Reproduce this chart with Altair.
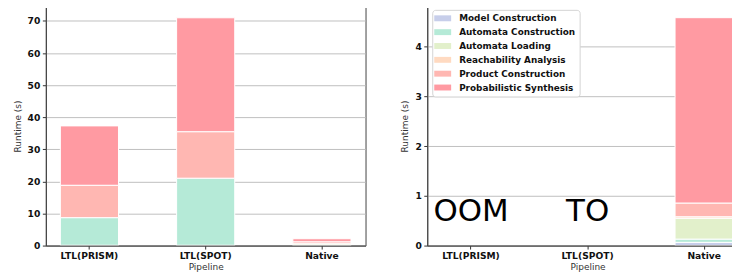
import altair as alt
import pandas as pd

pipelines = ["LTL(PRISM)", "LTL(SPOT)", "Native"]
phases = ["Model Construction", "Automata Construction", "Automata Loading",
          "Reachability Analysis", "Product Construction", "Probabilistic Synthesis"]
colors = ["#C7CEEA", "#B5EAD7", "#E2F0CB", "#FFDAC1", "#FFB7B2", "#FF9AA2"]

# Left panel runtimes (s), one list per phase, ordered like `pipelines`
left_model = [0.1, 0.1, 0.04]
left_automata_construction = [8.6, 20.9, 0.06]
left_automata_loading = [0.0, 0.0, 0.45]
left_reachability = [0.0, 0.0, 0.03]
left_product = [10.1, 14.5, 0.6]
left_synthesis = [18.5, 35.5, 0.95]

# Right panel runtimes (s): only Native finished
right_model = [0.0, 0.0, 0.065]
right_automata_construction = [0.0, 0.0, 0.065]
right_automata_loading = [0.0, 0.0, 0.42]
right_reachability = [0.0, 0.0, 0.03]
right_product = [0.0, 0.0, 0.276]
right_synthesis = [0.0, 0.0, 3.73]

# Annotations on right panel
note_pipelines = ["LTL(PRISM)", "LTL(SPOT)"]
note_labels = ["OOM", "TO"]
note_y = [0.5, 0.5]

left_y_ticks = [0, 10, 20, 30, 40, 50, 60, 70]
right_y_ticks = [0, 1, 2, 3, 4]


def build(series):
    rows = []
    for k, (phase, vals) in enumerate(zip(phases, series)):
        for p, v in zip(pipelines, vals):
            if v > 0:
                rows.append({"pipeline": p, "phase": phase, "order": k, "runtime": v})
    return pd.DataFrame(rows)


df_left = build([left_model, left_automata_construction, left_automata_loading,
                 left_reachability, left_product, left_synthesis])
df_right = build([right_model, right_automata_construction, right_automata_loading,
                  right_reachability, right_product, right_synthesis])
df_notes = pd.DataFrame({"pipeline": note_pipelines, "label": note_labels, "y": note_y})

FONT = "DejaVu Sans"
X_SCALE = dict(domain=pipelines, paddingInner=0.5, paddingOuter=0.125)


def x_enc():
    return alt.X("pipeline:N", sort=pipelines, scale=alt.Scale(**X_SCALE),
                 axis=alt.Axis(title="Pipeline", labelAngle=0, grid=False, zindex=1,
                               domainColor="#444", tickColor="#333", tickSize=3.5,
                               labelFont=FONT, labelFontSize=9.2, labelFontWeight="bold",
                               labelColor="#111", labelPadding=2,
                               titleFont=FONT, titleFontSize=9, titleFontWeight="normal",
                               titleColor="#333", titlePadding=2))


def y_axis(ticks):
    return alt.Axis(title="Runtime (s)", values=ticks, grid=True, gridColor="#b8b8b8",
                    gridWidth=0.9, domainColor="#444", tickColor="#333", tickSize=3.5,
                    labelFont=FONT, labelFontSize=9.2, labelFontWeight="bold",
                    labelColor="#111", labelPadding=2.5,
                    titleFont=FONT, titleFontSize=9, titleFontWeight="normal",
                    titleColor="#333", titlePadding=5)


left = alt.Chart(df_left).mark_bar(stroke="white", strokeWidth=1, opacity=1).encode(
    x=x_enc(),
    y=alt.Y("runtime:Q", stack="zero",
            scale=alt.Scale(domain=[0, 74.5], nice=False), axis=y_axis(left_y_ticks)),
    color=alt.Color("phase:N", scale=alt.Scale(domain=phases, range=colors), legend=None),
    order=alt.Order("order:Q"),
).properties(width=321, height=240)

legend = alt.Legend(orient="none", legendX=5, legendY=3.3, title=None,
                    symbolType="M-2,-0.7L2,-0.7L2,0.7L-2,0.7Z", symbolSize=72,
                    symbolStrokeWidth=0, symbolOpacity=1, symbolOffset=2,
                    labelFont=FONT, labelFontSize=8.9, labelFontWeight="bold",
                    labelColor="#111", labelOffset=12, rowPadding=3.9, padding=4,
                    strokeColor="#d4d4d4", fillColor="white", cornerRadius=3)

right_bars = alt.Chart(df_right).mark_bar(stroke="white", strokeWidth=1, opacity=1).encode(
    x=x_enc(),
    y=alt.Y("runtime:Q", stack="zero",
            scale=alt.Scale(domain=[0, 4.81], nice=False), axis=y_axis(right_y_ticks)),
    color=alt.Color("phase:N", scale=alt.Scale(domain=phases, range=colors), legend=legend),
    order=alt.Order("order:Q"),
)

right_text = alt.Chart(df_notes).mark_text(font=FONT, fontSize=31, color="black",
                                           align="center", baseline="alphabetic").encode(
    x=alt.X("pipeline:N", sort=pipelines, scale=alt.Scale(**X_SCALE)),
    y=alt.Y("y:Q"),
    text="label:N",
)

right = alt.layer(right_bars, right_text).properties(width=322, height=240)

chart = alt.hconcat(left, right, spacing=62, bounds="flush").resolve_scale(
    color="independent", y="independent").resolve_legend(color="independent").properties(
    padding={"left": 4, "top": -3, "right": -17, "bottom": 0}
).configure_view(stroke="#444", strokeWidth=1)

chart.save("out.html", embed_options={"renderer": "svg", "actions": False})
